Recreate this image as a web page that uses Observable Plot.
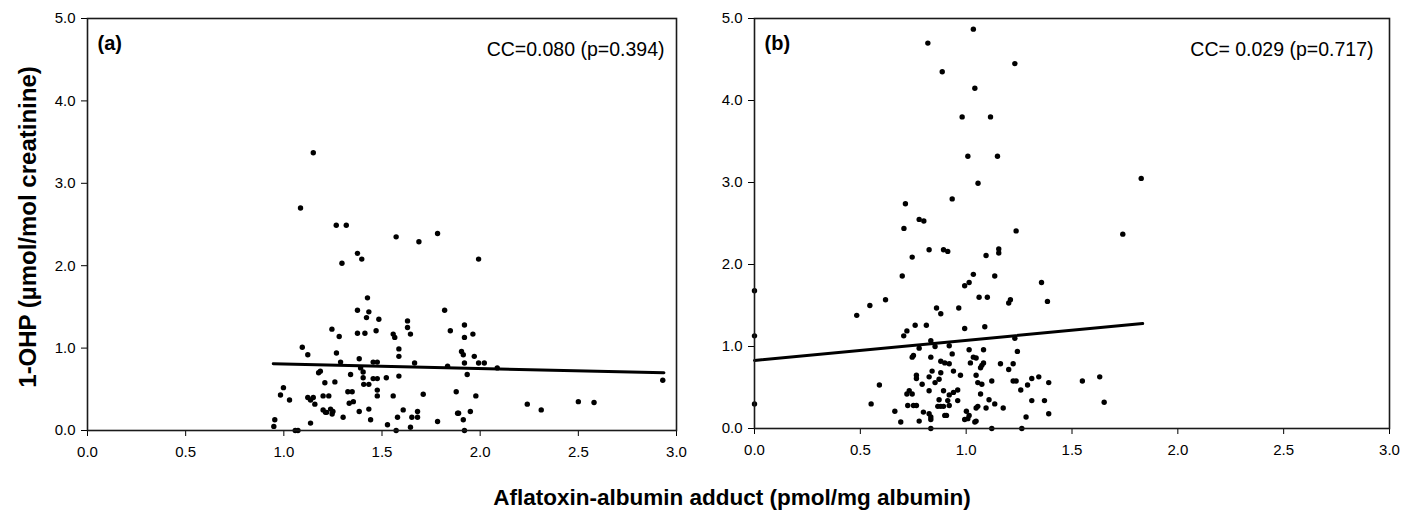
<!DOCTYPE html>
<html>
<head>
<meta charset="utf-8">
<script src="https://cdn.jsdelivr.net/npm/d3@7"></script>
<script src="https://cdn.jsdelivr.net/npm/@observablehq/plot@0.6"></script>
<style>
  html, body { margin: 0; padding: 0; background: #fff; }
  #wrap { position: relative; width: 1403px; height: 513px; overflow: hidden; font-family: "Liberation Sans", Arial, sans-serif; }
  #wrap > .panel { position: absolute; top: 0; }
  #overlay { position: absolute; left: 0; top: 0; pointer-events: none; }
</style>
</head>
<body>
<div id="wrap">
  <div class="panel" id="pa" style="left:0px"></div>
  <div class="panel" id="pb" style="left:690px"></div>
  <svg id="overlay" width="1403" height="513" font-family="Liberation Sans, Arial, sans-serif">
    <text id="ytitle" transform="translate(36,227) rotate(-90)" text-anchor="middle" font-weight="bold" font-size="24"></text>
    <text id="xtitle" x="732" y="505" text-anchor="middle" font-weight="bold" font-size="22.5"></text>
  </svg>
</div>
<script>
// ---------- data ----------
const yTitle = "1-OHP (µmol/mol creatinine)";
const xTitle = "Aflatoxin-albumin adduct (pmol/mg albumin)";
const xTicks = [0, 0.5, 1, 1.5, 2, 2.5, 3];
const yTicks = [0, 1, 2, 3, 4, 5];
const panelALabel = "(a)";
const panelBLabel = "(b)";
const ccA = "CC=0.080 (p=0.394)";
const ccB = "CC= 0.029 (p=0.717)";

// panel (a) points
const aX = [0.949,0.954,0.998,0.983,1.029,1.058,1.072,1.094,1.122,1.136,1.122,1.136,1.150,1.158,1.177,1.186,1.200,1.212,1.200,1.229,
1.209,1.218,1.238,1.246,1.250,1.245,1.268,1.260,1.282,1.289,1.302,1.326,1.348,1.333,1.354,1.340,1.375,1.375,1.384,1.384,
1.391,1.404,1.404,1.407,1.413,1.421,1.433,1.426,1.433,1.433,1.442,1.455,1.476,1.455,1.476,1.470,1.476,1.476,1.484,1.522,
1.528,1.557,1.565,1.557,1.572,1.579,1.586,1.586,1.586,1.608,1.630,1.630,1.645,1.645,1.652,1.681,1.681,1.666,1.710,1.783,
1.819,1.834,1.848,1.878,1.885,1.890,1.905,1.914,1.920,1.920,1.920,1.914,1.920,1.934,1.950,1.963,1.970,1.978,1.992,
1.150,1.085,1.267,1.318,1.296,1.375,1.397,1.572,1.688,1.783,1.992,
2.021,2.087,2.240,2.311,2.500,2.580,2.930];
const aY = [0.05,0.13,0.52,0.43,0.37,0.00,0.00,1.01,0.92,0.09,0.40,0.37,0.40,0.32,0.70,0.72,0.25,0.22,0.42,0.42,
0.58,0.22,0.26,0.20,0.23,1.23,0.94,0.59,1.14,0.83,0.16,0.47,0.47,0.33,0.35,0.68,1.46,1.18,0.87,0.23,
0.76,0.71,0.64,0.56,1.18,1.37,1.44,1.61,0.56,0.26,0.13,0.83,0.83,0.63,0.63,1.21,0.49,0.42,1.35,0.64,
0.07,1.17,1.13,0.42,0.00,0.16,0.99,0.90,0.66,0.25,1.33,1.25,1.17,0.04,0.16,0.16,0.23,0.82,0.44,0.11,
1.46,0.78,1.21,0.47,0.21,0.21,0.96,0.92,1.28,1.13,0.82,0.13,0.00,0.68,0.23,1.17,0.90,0.42,0.82,
3.37,2.70,2.49,2.49,2.03,2.15,2.08,2.35,2.29,2.39,2.08,
0.82,0.76,0.32,0.25,0.35,0.34,0.61];

// panel (a) fitted line
const lineAX = [0.946, 2.936];
const lineAY = [0.81, 0.70];

// panel (b) points
const bX = [0.819,0.887,0.713,0.934,0.778,0.800,0.706,
1.034,1.230,1.041,0.981,1.115,1.008,1.148,1.056,1.827,1.236,
0.825,0.893,0.913,0.745,0.698,0.000,0.619,0.545,0.483,0.860,0.880,0.965,0.759,0.812,0.705,0.720,0.000,0.833,0.853,0.920,
0.778,0.934,0.745,0.751,0.833,0.880,0.899,0.920,0.940,0.839,0.880,0.765,0.765,0.825,0.872,0.853,0.792,0.973,0.590,0.731,
0.720,0.745,0.825,0.893,0.920,0.940,0.960,0.872,0.913,0.960,0.000,0.551,0.724,0.751,0.765,0.866,0.880,0.893,0.920,0.663,
0.798,0.825,0.833,0.899,0.907,0.691,0.778,0.833,0.833,
1.740,1.154,1.154,1.094,1.034,1.135,0.993,1.014,1.356,1.061,1.100,1.201,1.209,1.384,0.993,1.088,1.230,1.014,1.082,1.242,
1.034,1.047,1.020,1.082,1.074,1.068,1.162,1.222,1.201,1.047,1.055,1.074,1.121,1.222,1.236,1.310,1.343,1.390,1.290,1.258,
1.549,1.631,1.068,1.108,1.094,1.135,1.055,1.047,1.175,1.310,1.370,1.652,1.001,1.014,0.993,1.008,1.047,1.041,1.283,1.390,
1.121,1.263];
const bY = [4.70,4.35,2.74,2.80,2.55,2.53,2.44,
4.87,4.45,4.15,3.80,3.80,3.32,3.32,2.99,3.05,2.41,
2.18,2.18,2.16,2.09,1.86,1.68,1.57,1.50,1.38,1.47,1.40,1.47,1.26,1.26,1.13,1.19,1.13,1.07,1.00,1.01,
0.98,0.91,0.87,0.89,0.87,0.82,0.80,0.79,0.70,0.70,0.68,0.65,0.61,0.63,0.60,0.56,0.54,0.65,0.53,0.46,
0.42,0.42,0.46,0.46,0.41,0.44,0.47,0.35,0.34,0.34,0.30,0.30,0.28,0.28,0.28,0.27,0.27,0.27,0.28,0.21,
0.20,0.18,0.14,0.16,0.16,0.08,0.09,0.11,0.00,
2.37,2.19,2.14,2.11,1.88,1.86,1.74,1.78,1.78,1.60,1.60,1.53,1.57,1.55,1.22,1.24,1.10,0.96,0.96,0.94,
0.87,0.86,0.80,0.80,0.77,0.74,0.79,0.79,0.72,0.65,0.56,0.54,0.58,0.58,0.58,0.61,0.63,0.56,0.53,0.47,
0.58,0.63,0.42,0.35,0.25,0.30,0.27,0.25,0.25,0.34,0.34,0.32,0.21,0.16,0.11,0.12,0.09,0.08,0.14,0.18,
0.00,0.00];

// panel (b) fitted line
const lineBX = [0.0, 1.834];
const lineBY = [0.83, 1.28];

// ---------- drawing ----------
document.getElementById("ytitle").textContent = yTitle;
document.getElementById("xtitle").textContent = xTitle;

function panel({width, marginLeft, marginRight, marginBottom, xs, ys, lx, ly, label, cc, ccDx}) {
  return Plot.plot({
    width, height: 470,
    marginLeft, marginRight, marginTop: 18, marginBottom,
    style: {background: "transparent", overflow: "visible", fontFamily: "Liberation Sans, Arial, sans-serif", fontSize: "15px", color: "#000"},
    x: {domain: [0, 3]},
    y: {domain: [0, 5]},
    marks: [
      Plot.axisX({ticks: xTicks, tickFormat: d3.format(".1f"), tickSize: 6, tickPadding: 10, label: null, fontSize: 15, stroke: "#000"}),
      Plot.axisY({ticks: yTicks, tickFormat: d3.format(".1f"), tickSize: 6, tickPadding: 6, label: null, fontSize: 15, stroke: "#000"}),
      Plot.dot(xs, {x: xs, y: ys, r: 2.7, fill: "#000", stroke: "none"}),
      Plot.line(lx, {x: lx, y: ly, stroke: "#000", strokeWidth: 3}),
      Plot.frame({stroke: "#1a1a1a", strokeWidth: 1.6}),
      Plot.text([label], {frameAnchor: "top-left", text: d => d, dx: 10, dy: 31, lineAnchor: "bottom", textAnchor: "start", fontSize: 20, fontWeight: "bold", fill: "#000"}),
      Plot.text([cc], {frameAnchor: "top-right", text: d => d, dx: ccDx, dy: 37, lineAnchor: "bottom", textAnchor: "end", fontSize: 19.5, fill: "#000"})
    ]
  });
}

document.getElementById("pa").append(panel({
  width: 690, marginLeft: 87, marginRight: 14, marginBottom: 40,
  xs: aX, ys: aY, lx: lineAX, ly: lineAY, label: panelALabel, cc: ccA, ccDx: -12
}));
document.getElementById("pb").append(panel({
  width: 713, marginLeft: 64, marginRight: 14, marginBottom: 42,
  xs: bX, ys: bY, lx: lineBX, ly: lineBY, label: panelBLabel, cc: ccB, ccDx: -16
}));
</script>
</body>
</html>
